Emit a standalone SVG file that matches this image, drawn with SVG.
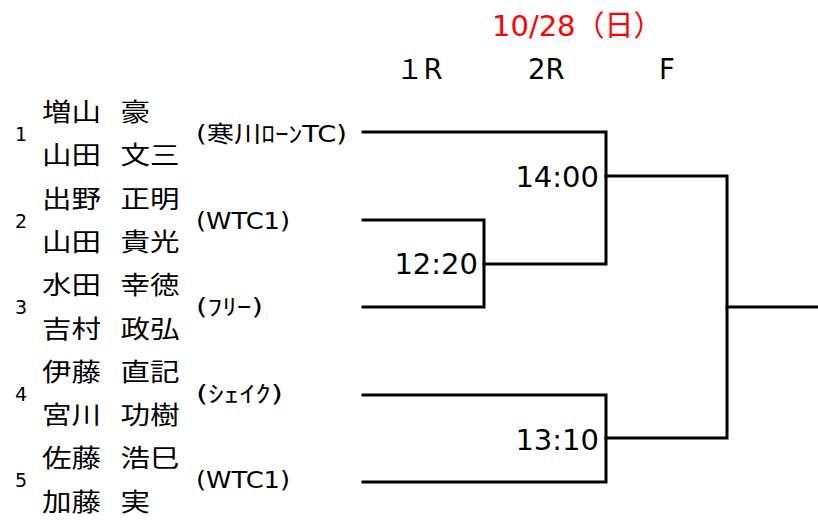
<svg xmlns="http://www.w3.org/2000/svg" width="818" height="522" viewBox="0 0 818 522">
<style>
.bg{fill:#fff}
.nm{font-family:"Noto Sans CJK JP",sans-serif;font-size:24.5px;fill:#000}
.no{font-family:"DejaVu Sans","Noto Sans CJK JP",sans-serif;font-size:19px;fill:#000;text-anchor:middle}
.tm{font-family:"DejaVu Sans","Noto Sans CJK JP",sans-serif;font-size:23px;fill:#000}
.hd{font-family:"DejaVu Sans","Noto Sans CJK JP",sans-serif;font-size:27.5px;fill:#000}
.dt{font-family:"DejaVu Sans","Noto Sans CJK JP",sans-serif;font-size:29px;fill:#ff0000}
.tt{font-family:"DejaVu Sans",sans-serif;font-size:29px;fill:#000;text-anchor:end}
.ln{fill:none;stroke:#000;stroke-width:3;stroke-linecap:square}
</style>
<rect class="bg" x="0" y="0" width="818" height="522"/>
<g id="header">
<text class="dt" x="492" y="36">10/28（日）</text>
<text class="hd" x="396" y="79">１R</text>
<text class="hd" x="528" y="79">2R</text>
<text class="hd" x="659" y="79">F</text>
</g>
<g id="team1">
<text class="no" x="21" y="141">1</text>
<text class="nm" x="42" y="121" textLength="59" lengthAdjust="spacingAndGlyphs">増山</text>
<text class="nm" x="120.5" y="121" textLength="29.5" lengthAdjust="spacingAndGlyphs">豪</text>
<text class="nm" x="42" y="164.3" textLength="59" lengthAdjust="spacingAndGlyphs">山田</text>
<text class="nm" x="120.5" y="164.3" textLength="59" lengthAdjust="spacingAndGlyphs">文三</text>
<text class="tm" x="196" y="142" textLength="151" lengthAdjust="spacingAndGlyphs">(寒川ﾛｰﾝTC)</text>
</g>
<g id="team2">
<text class="no" x="21" y="227.6">2</text>
<text class="nm" x="42" y="207.6" textLength="59" lengthAdjust="spacingAndGlyphs">出野</text>
<text class="nm" x="120.5" y="207.6" textLength="59" lengthAdjust="spacingAndGlyphs">正明</text>
<text class="nm" x="42" y="250.9" textLength="59" lengthAdjust="spacingAndGlyphs">山田</text>
<text class="nm" x="120.5" y="250.9" textLength="59" lengthAdjust="spacingAndGlyphs">貴光</text>
<text class="tm" x="196" y="228.6" textLength="94" lengthAdjust="spacingAndGlyphs">(WTC1)</text>
</g>
<g id="team3">
<text class="no" x="21" y="314.2">3</text>
<text class="nm" x="42" y="294.2" textLength="59" lengthAdjust="spacingAndGlyphs">水田</text>
<text class="nm" x="120.5" y="294.2" textLength="59" lengthAdjust="spacingAndGlyphs">幸徳</text>
<text class="nm" x="42" y="337.5" textLength="59" lengthAdjust="spacingAndGlyphs">吉村</text>
<text class="nm" x="120.5" y="337.5" textLength="59" lengthAdjust="spacingAndGlyphs">政弘</text>
<text class="tm" x="196" y="315.2" textLength="67" lengthAdjust="spacingAndGlyphs">(ﾌﾘｰ)</text>
</g>
<g id="team4">
<text class="no" x="21" y="400.8">4</text>
<text class="nm" x="42" y="380.8" textLength="59" lengthAdjust="spacingAndGlyphs">伊藤</text>
<text class="nm" x="120.5" y="380.8" textLength="59" lengthAdjust="spacingAndGlyphs">直記</text>
<text class="nm" x="42" y="424.1" textLength="59" lengthAdjust="spacingAndGlyphs">宮川</text>
<text class="nm" x="120.5" y="424.1" textLength="59" lengthAdjust="spacingAndGlyphs">功樹</text>
<text class="tm" x="196" y="401.8" textLength="87" lengthAdjust="spacingAndGlyphs">(ｼｪｲｸ)</text>
</g>
<g id="team5">
<text class="no" x="21" y="487.4">5</text>
<text class="nm" x="42" y="467.4" textLength="59" lengthAdjust="spacingAndGlyphs">佐藤</text>
<text class="nm" x="120.5" y="467.4" textLength="59" lengthAdjust="spacingAndGlyphs">浩巳</text>
<text class="nm" x="42" y="510.7" textLength="59" lengthAdjust="spacingAndGlyphs">加藤</text>
<text class="nm" x="120.5" y="510.7" textLength="29.5" lengthAdjust="spacingAndGlyphs">実</text>
<text class="tm" x="196" y="488.4" textLength="94" lengthAdjust="spacingAndGlyphs">(WTC1)</text>
</g>
<g id="connectors">
<path class="ln" d="M363,220 H484 V307 H363"/>
<path class="ln" d="M363,132 H606 V264 H484"/>
<path class="ln" d="M363,395 H606 V482 H363"/>
<path class="ln" d="M606,176 H727 V438 H606"/>
<path class="ln" d="M727,307 H818"/>
</g>
<g id="match-1r">
<text class="tt" x="478" y="274">12:20</text>
</g>
<g id="match-2r-a">
<text class="tt" x="599" y="187">14:00</text>
</g>
<g id="match-2r-b">
<text class="tt" x="599" y="450">13:10</text>
</g>
</svg>
